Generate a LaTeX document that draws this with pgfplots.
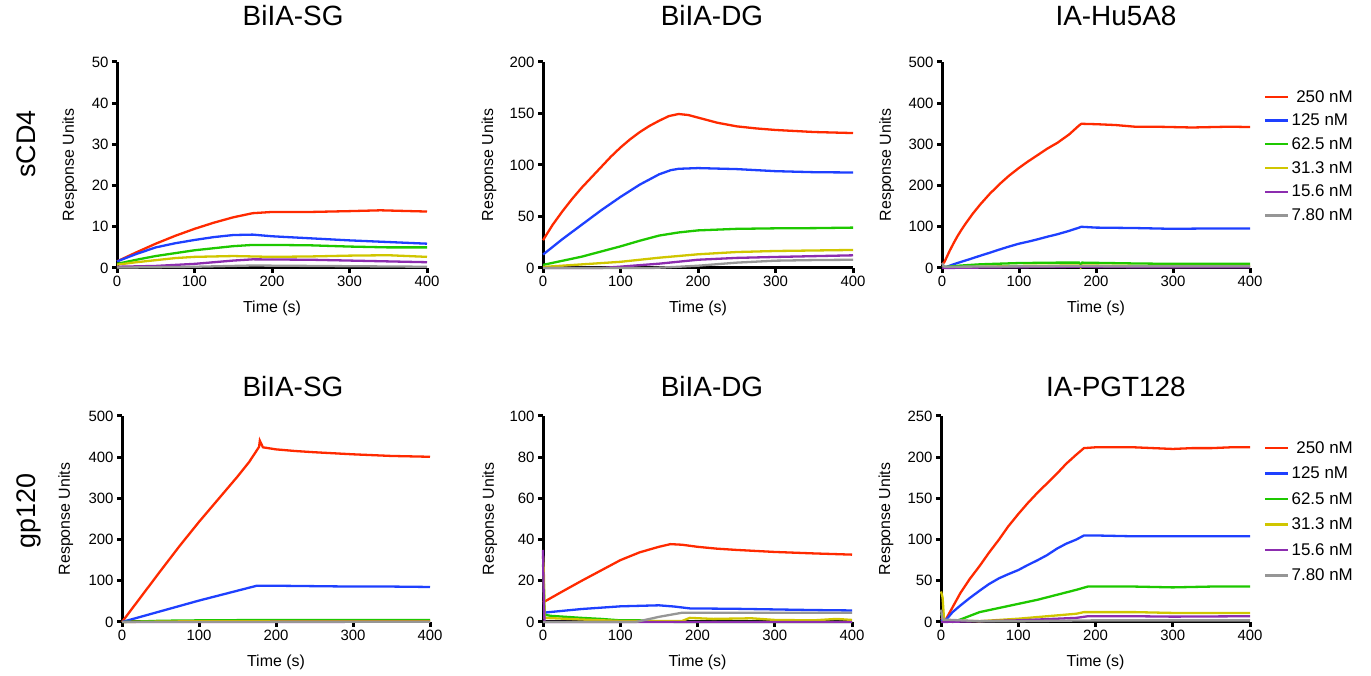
\documentclass[border=0pt]{standalone}
\usepackage{pgfplots}
\pgfplotsset{compat=1.18}
\usepackage{fontspec}
\setmainfont{Liberation Sans}

\definecolor{cRed}{RGB}{255,42,0}
\definecolor{cBlue}{RGB}{30,64,255}
\definecolor{cGreen}{RGB}{30,200,0}
\definecolor{cYel}{RGB}{208,198,0}
\definecolor{cPur}{RGB}{140,45,175}
\definecolor{cGray}{RGB}{150,150,150}

\pgfplotsset{
  kin/.style={
    scale only axis, height=206bp,
    axis lines=left,
    axis line style={line width=3bp, -},
    every outer x axis line/.append style={line width=3bp, -},
    every outer y axis line/.append style={line width=3bp, -},
    xmin=0, xmax=400, ymin=0,
    xtick={0,100,...,400},
    tick align=outside, major tick length=5bp,
    every tick/.style={line width=3bp, black},
    tick label style={font=\fontsize{15}{18}\selectfont},
    /pgf/number format/assume math mode=true,
    xlabel={Time (s)}, ylabel={Response Units},
    label style={font=\fontsize{16}{19}\selectfont},
    xlabel style={at={(axis description cs:0.5,-0.218)}, anchor=base},
    title style={font=\fontsize{28}{33}\selectfont, anchor=base},
    clip=false,
    every axis plot/.append style={line width=2.3bp, no markers},
    cycle list={{cRed},{cBlue},{cGreen},{cYel},{cPur},{cGray}},
  },
  leg/.style 2 args={
    legend style={at={(axis description cs:1.036,#1)}, anchor=north west,
      draw=none, fill=none, font=\fontsize{17}{20}\selectfont,
      legend cell align=left, row sep=#2},
    legend image code/.code={\draw[##1, line width=2.3bp] (0bp,0bp) -- (23bp,0bp);},
  },
}

\begin{document}
\begin{tikzpicture}[x=1bp,y=1bp]
\useasboundingbox (0,0) rectangle (1371,676);

\node[rotate=90, font=\fontsize{27}{32}\selectfont] at (26.5,532) {sCD4};
\node[rotate=90, font=\fontsize{27}{32}\selectfont] at (28.5,165) {gp120};

% top row: sCD4
\begin{axis}[kin, at={(117bp,408bp)}, anchor=south west, width=310bp,
  ymax=50, ytick={0,10,...,50}, title={BiIA-SG},
  title style={at={(axis description cs:0.568,1.146)}},
  ylabel style={at={(axis description cs:-0.139,0.5)}, anchor=base}]
\addplot coordinates {(0,1.6)(25,3.8)(50,5.9)(75,7.8)(100,9.5)(125,11.0)(150,12.3)(175,13.3)(200,13.6)(250,13.6)(300,13.8)(340,14.0)(400,13.7)};
\addplot coordinates {(0,1.6)(25,3.4)(50,5.0)(75,6.0)(100,6.8)(125,7.5)(150,8.0)(175,8.1)(200,7.7)(250,7.2)(300,6.7)(350,6.3)(400,5.9)};
\addplot coordinates {(0,1.0)(25,2.0)(50,2.9)(75,3.6)(100,4.3)(125,4.8)(150,5.3)(175,5.6)(200,5.6)(250,5.5)(300,5.2)(350,5.0)(400,5.0)};
\addplot coordinates {(0,0.8)(25,1.4)(50,1.9)(75,2.4)(100,2.7)(150,2.9)(200,2.7)(250,2.8)(300,3.0)(350,3.1)(400,2.7)};
\addplot coordinates {(0,0.3)(50,0.5)(100,1.0)(150,1.8)(175,2.1)(250,2.0)(300,1.8)(350,1.6)(400,1.4)};
\addplot coordinates {(0,0.1)(100,0.3)(175,0.6)(250,0.5)(400,0.3)};
\end{axis}

\begin{axis}[kin, at={(543bp,408bp)}, anchor=south west, width=310bp,
  ymax=200, ytick={0,50,...,200}, title={BiIA-DG},
  title style={at={(axis description cs:0.545,1.146)}},
  ylabel style={at={(axis description cs:-0.161,0.5)}, anchor=base}]
\addplot coordinates {(0,27)(12.5,42)(25,55)(37.5,67)(50,78)(62.5,88)(75,98)(87.5,108)(100,117)(112.5,125)(125,132)(137.5,138)(150,143)(162.5,147.5)(175,149.5)(187.5,148.5)(200,146)(225,141)(250,137.5)(275,135.5)(300,134)(350,132)(400,131)};
\addplot coordinates {(0,13)(25,28)(50,42)(75,56)(100,69)(125,81)(150,91)(165,95)(175,96.3)(200,97)(250,96)(300,94)(350,93)(400,92.7)};
\addplot coordinates {(0,3)(25,7)(50,11)(75,16)(100,21)(125,26.5)(150,31.5)(175,34.5)(200,36.5)(250,38)(300,38.5)(350,38.7)(400,39.2)};
\addplot coordinates {(0,1)(50,3.5)(100,6)(150,10)(200,13.3)(250,15.5)(300,16.5)(350,17)(400,17.5)};
\addplot coordinates {(0,0)(75,0)(100,1.3)(150,4.2)(200,8)(250,9.8)(300,10.7)(350,11.5)(400,12.3)};
\addplot coordinates {(0,0)(140,0)(170,1)(200,2.2)(250,5.2)(300,7.1)(350,7.7)(400,8)};
\end{axis}

\begin{axis}[kin, leg={0.883}{6.4bp}, at={(942bp,408bp)}, anchor=south west, width=308bp,
  ymax=500, ytick={0,100,...,500}, title={IA-Hu5A8},
  title style={at={(axis description cs:0.565,1.146)}},
  ylabel style={at={(axis description cs:-0.166,0.5)}, anchor=base}]
\addplot coordinates {(0,8)(3,14)(6,26)(10,42)(15,60)(20,77)(25,92)(30,106)(35,119)(40,132)(50,155)(62,180)(75,204)(87,224)(100,243)(112,259)(125,275)(137,290)(150,304)(165,324)(178,346)(181,350)(200,349)(225,347)(250,343)(275,343)(300,342)(325,341)(350,342)(375,343)(400,342)};
\addplot coordinates {(0,5)(5,2)(15,9)(25,15)(37,22)(50,30)(62,37)(75,45)(87,52)(100,59)(112,64)(125,70)(137,76)(150,82)(165,90)(178,98)(181,100)(200,98)(250,97)(300,95)(350,96)(400,96)};
\addplot coordinates {(0,2)(25,6)(50,9)(100,12)(150,13)(178,13)(180,8)(182,13)(250,11)(300,10)(400,10)};
\addplot coordinates {(0,1)(50,3)(100,5)(178,6)(180,1)(182,6)(250,5)(400,5)};
\addplot coordinates {(0,0)(100,2)(180,3)(250,2)(400,2)};
\addplot coordinates {(0,12)(3,3)(100,4)(180,5)(250,4)(400,4)};
\legend{\ 250 nM, 125 nM, 62.5 nM, 31.3 nM, 15.6 nM, 7.80 nM}
\end{axis}

% bottom row: gp120
\begin{axis}[kin, at={(122bp,54bp)}, anchor=south west, width=308bp,
  ymax=500, ytick={0,100,...,500}, title={BiIA-SG},
  title style={at={(axis description cs:0.555,1.068)}},
  ylabel style={at={(axis description cs:-0.169,0.5)}, anchor=base}]
\addplot coordinates {(0,0)(25,62)(50,124)(75,185)(100,243)(125,298)(150,353)(165,388)(178,425)(179,440)(181,432)(183,424)(200,419)(225,415)(250,412)(300,407)(350,403)(400,401)};
\addplot coordinates {(0,0)(50,26)(100,52)(150,76)(175,88)(200,88)(250,87)(300,86)(350,86)(400,85)};
\addplot coordinates {(0,0)(50,3)(100,4)(200,5)(300,5)(400,5)};
\addplot coordinates {(0,0)(100,2)(200,2)(400,2)};
\addplot coordinates {(0,0)(400,0.5)};
\addplot coordinates {(0,0)(400,0)};
\end{axis}

\begin{axis}[kin, at={(543bp,54bp)}, anchor=south west, width=309bp,
  ymax=100, ytick={0,20,...,100}, title={BiIA-DG},
  title style={at={(axis description cs:0.547,1.068)}},
  ylabel style={at={(axis description cs:-0.159,0.5)}, anchor=base}]
\addplot coordinates {(0,9.5)(25,14.8)(50,20)(75,25)(100,30)(125,33.8)(150,36.5)(165,37.8)(180,37.5)(200,36.5)(225,35.6)(250,35)(300,34)(350,33.3)(400,32.7)};
\addplot coordinates {(0,4.5)(50,6.3)(100,7.6)(150,8.1)(170,7.5)(190,6.6)(250,6.4)(300,6.1)(350,5.8)(400,5.6)};
\addplot coordinates {(0,28)(1,20)(2,3.5)(10,3)(30,2.5)(50,2.0)(75,1.5)(100,0.8)(125,0.8)(150,0.3)(175,0)(400,0)};
\addplot coordinates {(0,32)(1,25)(2,2)(50,1.2)(100,0.5)(150,0.5)(180,0.5)(190,2)(220,1.5)(270,1.8)(300,1.0)(350,0.8)(380,1.5)(400,1)};
\addplot coordinates {(0,35)(1,10)(2,0)(400,0)};
\addplot coordinates {(0,0)(120,0)(150,2.5)(180,4.5)(400,4.5)};
\end{axis}

\begin{axis}[kin, leg={0.898}{8.2bp}, at={(941bp,54bp)}, anchor=south west, width=309bp,
  ymax=250, ytick={0,50,...,250}, title={IA-PGT128},
  title style={at={(axis description cs:0.566,1.068)}},
  ylabel style={at={(axis description cs:-0.165,0.5)}, anchor=base}]
\addplot coordinates {(0,5)(5,1)(15,18)(25,35)(37,52)(50,68)(62,84)(75,100)(87,116)(100,131)(112,144)(125,157)(137,168)(150,180)(162,192)(175,203)(185,211)(200,212)(225,212)(250,212)(275,211)(300,210)(325,211)(350,211)(375,212)(400,212)};
\addplot coordinates {(0,3)(5,1)(15,12)(25,20)(37,29)(50,38)(62,46)(75,53)(87,58)(100,63)(112,69)(125,75)(137,81)(150,89)(162,95)(175,100)(185,105)(200,105)(250,104)(300,104)(350,104)(400,104)};
\addplot coordinates {(0,10)(5,2)(15,0)(25,3)(50,12)(75,17)(100,22)(125,27)(150,33)(175,39)(190,43)(250,43)(300,42)(350,43)(400,43)};
\addplot coordinates {(0,37)(2,30)(4,2)(50,1)(100,4)(150,8)(175,10)(185,12)(200,12)(250,12)(300,11)(400,11)};
\addplot coordinates {(0,0)(100,2)(150,4)(175,5)(190,7)(250,7)(300,6.5)(400,7)};
\addplot coordinates {(0,15)(2,3)(50,1)(100,1)(200,2)(300,2)(400,2)};
\legend{\ 250 nM, 125 nM, 62.5 nM, 31.3 nM, 15.6 nM, 7.80 nM}
\end{axis}
\end{tikzpicture}
\end{document}
